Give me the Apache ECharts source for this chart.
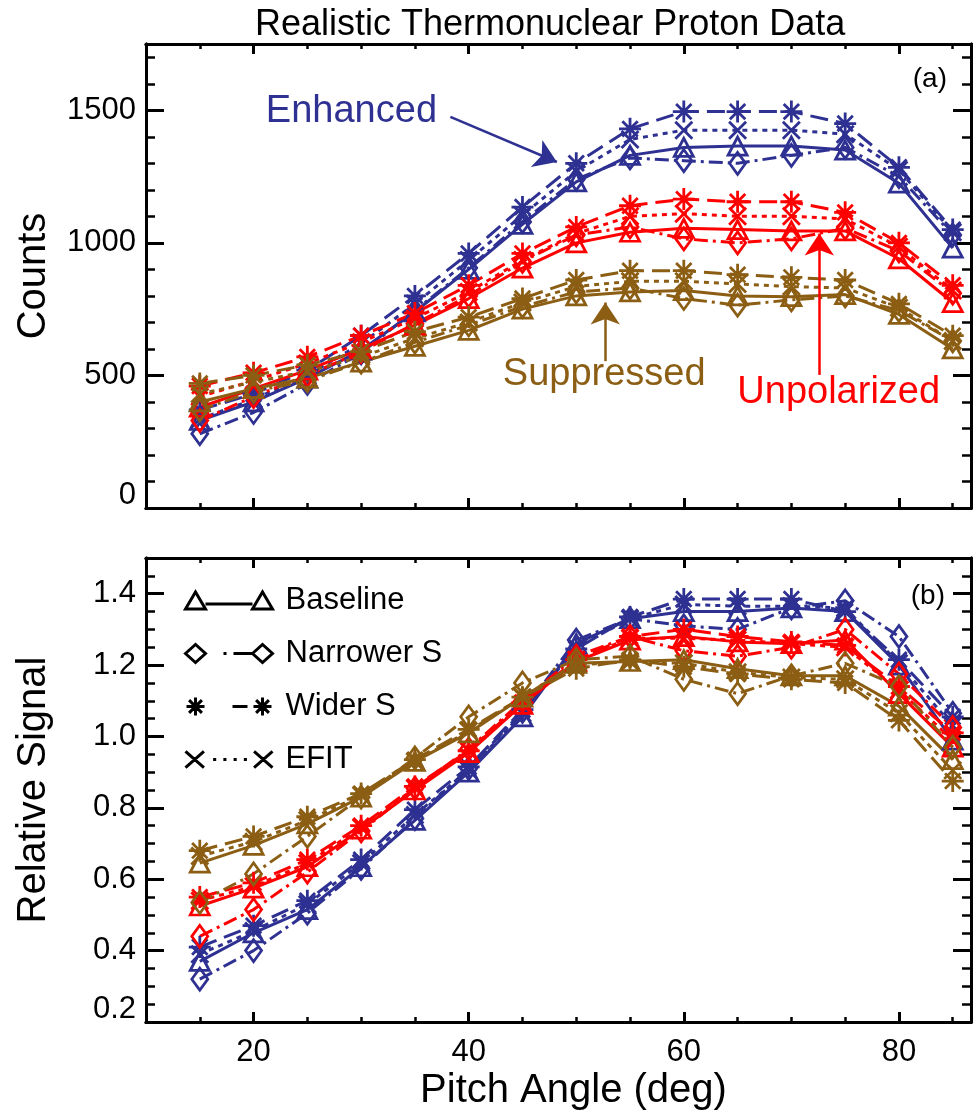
<!DOCTYPE html>
<html><head><meta charset="utf-8">
<script src="https://cdn.jsdelivr.net/npm/echarts@6/dist/echarts.min.js"></script>
<style>html,body{margin:0;padding:0;background:#fff}#c{width:974px;height:1114px}</style>
</head><body><div id="c"></div>
<script>
// ---------- data ----------
const pitch = [15,20,25,30,35,40,45,50,55,60,65,70,75,80,85];

// Panel (a): counts
const cntEnhBase   = [330,400,490,595,740,900,1070,1230,1330,1360,1365,1365,1350,1225,980];
const cntEnhNarrow = [280,360,470,585,745,905,1080,1240,1320,1310,1300,1330,1360,1250,1030];
const cntEnhWider  = [370,430,520,650,800,960,1135,1300,1430,1495,1495,1495,1450,1285,1050];
const cntEnhEfit   = [335,410,500,620,770,935,1105,1270,1390,1425,1425,1425,1410,1275,1040];
const cntUnpBase   = [380,450,520,600,690,790,905,1000,1040,1055,1050,1045,1045,940,775];
const cntUnpNarrow = [330,420,500,590,695,800,930,1030,1060,1015,1000,1015,1055,970,810];
const cntUnpWider  = [460,510,570,650,735,840,960,1060,1140,1165,1155,1155,1115,1000,840];
const cntUnpEfit   = [420,480,545,625,715,815,935,1035,1100,1110,1100,1100,1090,985,820];
const cntSupBase   = [400,450,490,550,610,670,750,800,815,820,800,797,805,730,600];
const cntSupNarrow = [370,440,480,550,625,690,760,815,830,790,765,785,800,745,630];
const cntSupWider  = [470,500,540,590,665,720,790,860,895,895,880,870,860,770,650];
const cntSupEfit   = [430,475,515,570,640,700,775,835,855,855,845,835,830,755,630];

// Panel (b): relative signal
const relEnhBase   = [0.37,0.45,0.515,0.635,0.765,0.90,1.055,1.26,1.33,1.35,1.35,1.36,1.35,1.20,0.99];
const relEnhNarrow = [0.32,0.40,0.505,0.63,0.77,0.91,1.07,1.27,1.33,1.31,1.30,1.36,1.38,1.28,1.065];
const relEnhWider  = [0.41,0.47,0.54,0.655,0.795,0.915,1.075,1.245,1.335,1.385,1.385,1.385,1.35,1.215,1.055];
const relEnhEfit   = [0.39,0.455,0.53,0.645,0.78,0.905,1.065,1.25,1.33,1.37,1.365,1.365,1.36,1.205,1.03];
const relUnpBase   = [0.525,0.575,0.635,0.74,0.85,0.955,1.09,1.21,1.27,1.28,1.265,1.26,1.27,1.12,0.97];
const relUnpNarrow = [0.44,0.515,0.62,0.735,0.855,0.965,1.10,1.225,1.28,1.24,1.225,1.25,1.30,1.175,1.025];
const relUnpWider  = [0.55,0.59,0.655,0.75,0.86,0.96,1.095,1.215,1.28,1.30,1.28,1.265,1.255,1.14,1.01];
const relUnpEfit   = [0.54,0.58,0.645,0.745,0.855,0.96,1.09,1.215,1.275,1.275,1.27,1.26,1.25,1.13,0.99];
const relSupBase   = [0.645,0.695,0.755,0.83,0.93,1.01,1.11,1.205,1.21,1.215,1.19,1.17,1.17,1.085,0.935];
const relSupNarrow = [0.535,0.615,0.72,0.83,0.94,1.055,1.15,1.215,1.225,1.16,1.12,1.17,1.205,1.14,0.97];
const relSupWider  = [0.68,0.72,0.775,0.84,0.935,1.02,1.11,1.19,1.215,1.195,1.175,1.16,1.15,1.045,0.875];
const relSupEfit   = [0.665,0.705,0.765,0.835,0.93,1.015,1.11,1.20,1.21,1.205,1.18,1.165,1.16,1.065,0.905];

// ticks
const xMajor   = [20,40,60,80];
const xMinor   = [15,25,30,35,45,50,55,65,70,75,85];
const cntMajor = [0,500,1000,1500];
const cntMinor = [100,200,300,400,600,700,800,900,1100,1200,1300,1400,1600,1700];
const relMajor = [0.2,0.4,0.6,0.8,1.0,1.2,1.4];
const relMinor = [0.25,0.3,0.35,0.45,0.5,0.55,0.65,0.7,0.75,0.85,0.9,0.95,1.05,1.1,1.15,1.25,1.3,1.35,1.45];

// labels
const styleNames = ['Baseline','Narrower S','Wider S','EFIT'];
const groupNames = ['Enhanced','Unpolarized','Suppressed'];
// annotation anchors in data units (pitch deg, counts)
const annEnhText = [29.1,1494];  const annEnhArrow = [[38.3,1475],[48.2,1305]];
const annSupText = [52.6,502];   const annSupArrow = [[52.7,554],[52.7,775]];
const annUnpText = [74.4,434];   const annUnpArrow = [[72.6,502],[72.6,1035]];

// ---------- styling ----------
const FONT = "'Liberation Sans', Arial, sans-serif";
const C = {Enhanced:'#2E3192', Unpolarized:'#FF0000', Suppressed:'#8B5E14'};
const SYM = {
  'Baseline':'triangle',
  'Narrower S':'diamond',
  'Wider S':'path://M0,-10L0,10M-10,0L10,0M-7,-7L7,7M-7,7L7,-7',
  'EFIT':'path://M-8,-8L8,8M-8,8L8,-8'
};
const SYMSIZE = {'Baseline':[19,18],'Narrower S':[16,22],'Wider S':22,'EFIT':17};
const DASH = {'Baseline':'solid','Narrower S':[14,5,3,5],'Wider S':[18,8],'EFIT':[5,5]};

const LEFT = 146, RIGHT = 3;
const grids = [
  {left:LEFT, right:RIGHT, top:44, height:464},
  {left:LEFT, right:RIGHT, top:558, height:464}
];

function xAxes(g, labels){
  const base = {type:'value', gridIndex:g, min:10, max:86.7, splitLine:{show:false},
    axisLine:{show:true, onZero:false, lineStyle:{color:'#000', width:3}}};
  return [
    Object.assign({}, base, {position:'bottom',
      axisTick:{inside:true, length:10, customValues:xMajor, lineStyle:{color:'#000', width:3}},
      axisLabel:{show:labels, customValues:xMajor, color:'#000', fontSize:31, fontFamily:FONT, margin:15},
      name: labels ? 'Pitch Angle (deg)' : '', nameLocation:'middle', nameGap:49,
      nameTextStyle:{fontSize:40, color:'#000', fontFamily:FONT, padding:[0,0,0,30]}}),
    Object.assign({}, base, {position:'bottom',
      axisTick:{inside:true, length:5, customValues:xMinor, lineStyle:{color:'#000', width:2.5}},
      axisLabel:{show:false}}),
    Object.assign({}, base, {position:'top',
      axisTick:{inside:true, length:10, customValues:xMajor, lineStyle:{color:'#000', width:3}},
      axisLabel:{show:false}}),
    Object.assign({}, base, {position:'top',
      axisTick:{inside:true, length:5, customValues:xMinor, lineStyle:{color:'#000', width:2.5}},
      axisLabel:{show:false}})
  ];
}
function yAxes(g, min, max, major, minor, name, fmt){
  const base = {type:'value', gridIndex:g, min:min, max:max, splitLine:{show:false},
    axisLine:{show:true, onZero:false, lineStyle:{color:'#000', width:3}}};
  return [
    Object.assign({}, base, {position:'left',
      axisTick:{inside:true, length:18, customValues:major, lineStyle:{color:'#000', width:3}},
      axisLabel:{customValues:major, color:'#000', fontSize:31, fontFamily:FONT, margin:10,
        formatter:fmt, rich:{lo:{padding:[0,0,26,0], fontSize:31, fontFamily:FONT, color:'#000'}}},
      name:name, nameLocation:'middle', nameGap:92,
      nameTextStyle:{fontSize:40, color:'#000', fontFamily:FONT}}),
    Object.assign({}, base, {position:'left',
      axisTick:{inside:true, length:9, customValues:minor, lineStyle:{color:'#000', width:2.5}},
      axisLabel:{show:false}}),
    Object.assign({}, base, {position:'right',
      axisTick:{inside:true, length:18, customValues:major, lineStyle:{color:'#000', width:3}},
      axisLabel:{show:false}}),
    Object.assign({}, base, {position:'right',
      axisTick:{inside:true, length:9, customValues:minor, lineStyle:{color:'#000', width:2.5}},
      axisLabel:{show:false}})
  ];
}

function mk(styleName, groupName, vals, g){
  const col = C[groupName];
  return {
    type:'line', name:styleName, xAxisIndex:g*4, yAxisIndex:g*4,
    data: pitch.map((p,i)=>[p, vals[i]]),
    symbol: SYM[styleName], symbolSize: SYMSIZE[styleName], showAllSymbol:true,
    lineStyle:{color:col, width:3, type:DASH[styleName]},
    itemStyle:{color:'transparent', borderColor:col, borderWidth:2.8},
    emphasis:{disabled:true}, silent:true, clip:false
  };
}

const series = [];
const topSets = {
  Enhanced:[cntEnhBase,cntEnhNarrow,cntEnhWider,cntEnhEfit],
  Unpolarized:[cntUnpBase,cntUnpNarrow,cntUnpWider,cntUnpEfit],
  Suppressed:[cntSupBase,cntSupNarrow,cntSupWider,cntSupEfit]
};
const botSets = {
  Enhanced:[relEnhBase,relEnhNarrow,relEnhWider,relEnhEfit],
  Unpolarized:[relUnpBase,relUnpNarrow,relUnpWider,relUnpEfit],
  Suppressed:[relSupBase,relSupNarrow,relSupWider,relSupEfit]
};
groupNames.forEach(gn=>{
  styleNames.forEach((sn,k)=>{ series.push(mk(sn, gn, topSets[gn][k], 0)); });
});
groupNames.forEach(gn=>{
  styleNames.forEach((sn,k)=>{ series.push(mk(sn, gn, botSets[gn][k], 1)); });
});

function annotation(text, pos, arrow, col){
  return {
    type:'line', name:'ann-'+text, xAxisIndex:0, yAxisIndex:0, data:[], silent:true,
    color:col, itemStyle:{color:col},
    markPoint:{symbol:'circle', symbolSize:0, silent:true,
      label:{show:true, position:'inside', formatter:text, color:col, fontSize:38, fontFamily:FONT},
      data:[{coord:pos}]},
    markLine:{silent:true, symbol:['none','arrow'], symbolSize:22,
      itemStyle:{color:col},
      lineStyle:{color:col, width:2.5, type:'solid'}, label:{show:false},
      data:[[{coord:arrow[0]},{coord:arrow[1]}]]}
  };
}
series.push(annotation('Enhanced', annEnhText, annEnhArrow, C.Enhanced));
series.push(annotation('Suppressed', annSupText, annSupArrow, C.Suppressed));
series.push(annotation('Unpolarized', annUnpText, annUnpArrow, C.Unpolarized));

const ICON = {
  'Baseline':'path://M0,18L10,1L20,18ZM20,13L67,13M67,18L77,1L87,18Z',
  'Narrower S':'path://M0,9L10,0L20,9L10,18ZM38,9L41,9M48,9L67,9M67,9L77,0L87,9L77,18Z',
  'Wider S':'path://M10,0L10,18M1,9L19,9M3.6,2.6L16.4,15.4M3.6,15.4L16.4,2.6M47,9L62,9M77,0L77,18M68,9L86,9M70.6,2.6L83.4,15.4M70.6,15.4L83.4,2.6',
  'EFIT':'path://M1,1L19,17M1,17L19,1M28,9L31,9M38,9L41,9M48,9L51,9M58,9L61,9M68,1L86,17M68,17L86,1'
};

const option = {
  animation:false,
  backgroundColor:'#fff',
  textStyle:{fontFamily:FONT},
  title:[
    {text:'Realistic Thermonuclear Proton Data', left:250, top:2,
      textStyle:{fontSize:36, fontWeight:'normal', color:'#000', fontFamily:FONT}},
    {text:'(a)', right:22, top:60, textStyle:{fontSize:28, fontWeight:'normal', color:'#000', fontFamily:FONT}},
    {text:'(b)', right:24, top:577, textStyle:{fontSize:28, fontWeight:'normal', color:'#000', fontFamily:FONT}}
  ],
  legend:{orient:'vertical', left:178, top:580, itemGap:22, itemWidth:87, itemHeight:18,
    selectedMode:false,
    textStyle:{fontSize:31, color:'#000', fontFamily:FONT, padding:[0,0,0,8]},
    data: styleNames.map(n=>({name:n, icon:ICON[n],
      itemStyle:{color:'none', borderColor:'#000', borderWidth:3}}))},
  grid:grids,
  xAxis:[].concat(xAxes(0,false), xAxes(1,true)),
  yAxis:[].concat(
    yAxes(0, 0, 1750, cntMajor, cntMinor, 'Counts', v => v===0 ? '{lo|0}' : String(v)),
    yAxes(1, 0.2, 1.5, relMajor, relMinor, 'Relative Signal',
      v => Math.abs(v-0.2)<1e-6 ? '{lo|0.2}' : v.toFixed(1))
  ),
  series:series
};
const chart = echarts.init(document.getElementById('c'), null, {renderer:'canvas'});
chart.setOption(option);
</script>
</body></html>
